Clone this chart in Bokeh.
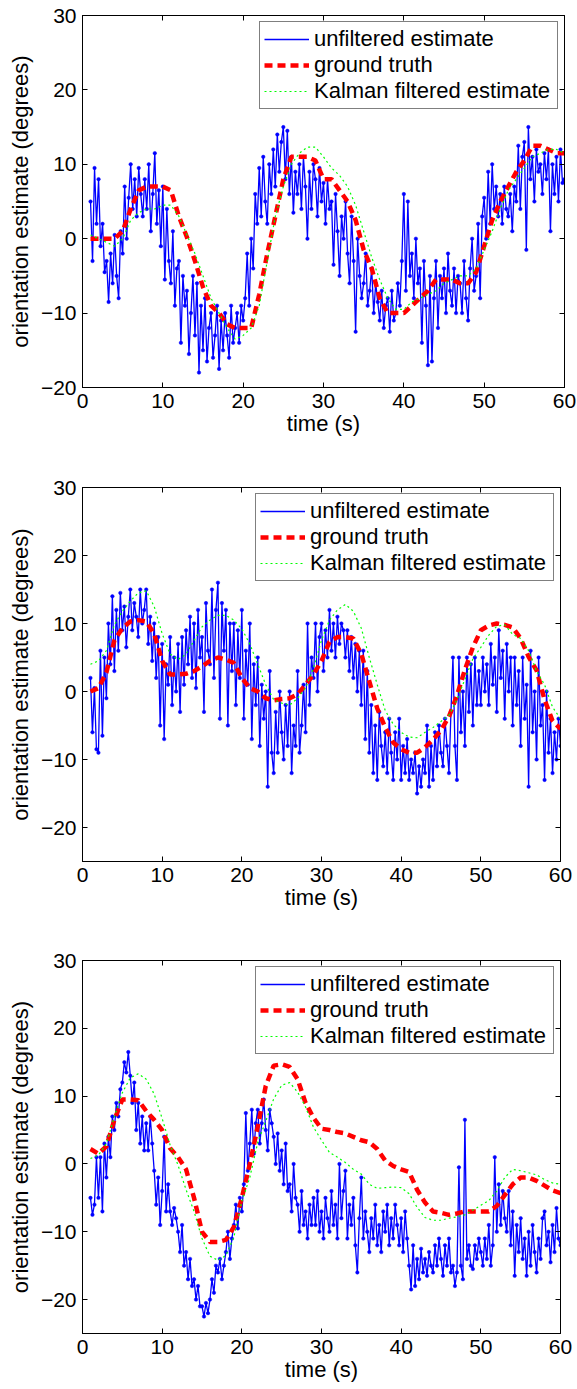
import numpy as np
from bokeh.plotting import figure
from bokeh.layouts import column
from bokeh.models import (LinearAxis, FixedTicker, Range1d, CustomJSTickFormatter,
                          CustomLabelingPolicy)
from bokeh.embed import file_html
from bokeh.resources import INLINE

# ---------------- data ----------------
# sample times
t_unf = np.arange(1.0, 60.001, 0.25)   # unfiltered estimate samples
t_smooth = np.arange(1, 61)            # ground truth / Kalman samples

# Panel 1
unf1 = [
    5, -3, 9.5, 2,   8, -1, 2, -4.5,   -3, -8.5, -2, -6,   0.5, -5, -8, 1,
    -2, 7, 0, 5.5,   10, 4, 8, 3,   9.5, 6, 3, 8,   4, 10, 1, 6,
    11.5, 2, 6.5, -1,   7, -5.5, 4, -3,   -6, 1, -9, -4,   -3, -14, -5, -9,
    -7, -15.5, -10, -5,   -13, -6, -18, -9,   -15, -8, -16.5, -12,   -10, -16, -13, -9,
    -17.5, -11, -15, -10,   -13, -16, -9, -14,   -12, -10, -14, -9,   -11, -8, -2, -9,
    0, -4, 6, 2,   9.5, 3, 11, 5,   2, 10, 6, 12,   7, 14, 9, 13,
    15, 8, 14.5, 6,   11, 3.5, 9, 6,   10, 4, 11, 7,   0, 9, 4, 10,
    8, 3, 9.5, 5,   7.5, 2, 8, 4,   5, -3.5, 6, 1,   -5, 3, 0, 5,
    -2, -6, 3, -3,   -12.5, 0, -5, -8,   -6, -2, -9, -7,   -4, -10, -6, -8.5,
    -11, -7, -12, -9,   -8, -12.5, -7, -11,   -10, -6, -9, -3,   6, -7, 5, -5,
    -2, -8, 0, -6,   -4, -14, -3, -9,   -17, -5, -16.5, -8,   -3, -12, -5, -8,
    -4, -10, -2, -7,   -9, -4, -10, -5,   -6, -10, -3, -8,   -11, -4, 0, -7,
    -5, 2, -8, 3,   5.5, 0, 9, 2,   10, 4, 7, 3,   6, 2, 7, 4,
    3, 6, 1, 7,   5, 12.5, 4, 11,   13, -1.5, 15, 8,   11, 5, 12, 9,
    10, 6, 11.5, 8,   12, 1, 10, 6,   11, 5, 12, 7.5,   8,
]
gt1 = [0, 0, 0, 0, 1, 4, 6.5, 7, 7, 7,
       6.5, 3, 0.2, -3, -6.5, -9, -10, -11.5, -12, -12,
       -12, -7.5, -2, 3, 8, 11, 11, 11, 10.5, 8,
       8, 6.5, 5, 2.5, -1.5, -4, -8, -10, -10, -10,
       -9, -8, -7, -5.5, -5.5, -5.5, -6, -6, -4.5, -1,
       2.5, 5, 7, 9, 10.5, 12.5, 12.5, 12, 11.5, 11.5]
kal1 = [0.5, 0, -0.5, -1, 0, 2.5, 3.5, 4, 4, 4.5,
        4.5, 3, 0.5, -2, -5, -8, -10, -12, -13.5, -13,
        -12, -9, -3, 3, 7, 10, 11.5, 12.3, 12.3, 11,
        9.5, 8.5, 7, 4.5, 1, -2.5, -5.5, -8, -9.5, -9.5,
        -8.5, -8, -7.5, -7, -6, -5.5, -5, -5, -4, -1.5,
        1, 4, 6.5, 8, 9.5, 11, 11.5, 12, 12, 11.5]

# Panel 2
unf2 = [
    2, -6, 0.5, -8.5,   -9, 6, -6.5, 5,   -1, 10, 4, 14,   3, 12, 6, 14.5,
    9, 12.5, 6.5, 11,   15, 9, 13, 11,   8, 15, 10, 12,   15, 7, 11, 4.5,
    10, 2, 8, -5,   7, -7, 4, 1,   8, -2, 5, 0,   7, -3, 8, 1,
    9, 4, 11, 2,   10, 0.5, 12, 5,   8, -3, 13, 6,   4, 15, 2, 12,
    16, -4, 13, 6,   12, -5, 10, 3,   10, -2, 9, 2,   12, -4, 6, 1,
    10, -7, 4, -2,   5, -8, 1, -4,   0, -14, 3, -9,   -12, -3, -9, 0,
    -6, -10, -2, -8,   0, -12, -5, -8,   3, -9, -5, 1,   -6, 10, -2, 5,
    2, 10, 0, 8,   10, 3, 9, 5,   12, 6, 10, 5,   11, 7, 10, 9,
    5, 9, 3, 8,   2, 7, 0, 6,   -2, 6, -7, 3,   -9, -2, -12, -5,
    -13, -3, -8, -11,   -6, -12, -4, -9,   -13, -6, -10, -4,   -13, -8, -12, -7,
    -13, -10, -12, -9,   -15, -11, -14, -10,   -12, -5, -14, -8,   -13, -6, -11, -5,
    -9, -11, -4, -8,   -12, -3, 5, -8,   -13, 5, -6, 0,   -8, 5, -3, 4,
    -5, 5, -2, 3,   -2, 5, 0, 4,   -2, 7, 1, 5,   -3, 9, 2, 6,
    -4, 7, 0, 5,   -5, 5, -2, 3,   -8, 5, -4, 1,   -14, 6, -6, 0,
    -10, 5, -5, -2,   -13, 0, -9, -4,   -12, -6, -10, -4,   -8,
]
gt2 = [0, 0.5, 2.8, 7.5, 9.3, 10.3, 10.5, 10.3, 8.5, 4.5,
       2.5, 2.5, 2.6, 3, 3.7, 4.5, 5, 4.7, 4.2, 2,
       0.5, 0, -1, -1.3, -1.1, -1, -0.4, 1, 2.5, 4.5,
       7.3, 8, 8, 7.8, 5.5, 1.5, -2.5, -5.3, -7.5, -8.5,
       -9, -9, -8.2, -7.1, -5.7, -3.7, -0.6, 3.2, 6.5, 9,
       9.7, 10, 9.8, 9.4, 7.8, 5.1, 3.1, -1.2, -4.3, -5.5]
kal2 = [4, 4.5, 6, 9.8, 11.8, 13.3, 14.5, 14.8, 12.5, 8.5,
        5.5, 4.7, 5.5, 7.5, 9.5, 10.5, 11.2, 11.2, 10.5, 9.2,
        7, 4, 1, -1.2, -1.7, -2, -1, 0.5, 3.5, 7.5,
        10.5, 12, 12.8, 11.8, 9.3, 5, 1, -2.8, -4.8, -6,
        -6.7, -6.8, -6, -5.3, -4.4, -3.5, -1.2, 1.8, 4.8, 6.5,
        8.3, 9.6, 9.8, 8.4, 7.8, 6, 3, 1, -2.3, -4]

# Panel 3
unf3 = [
    -5, -7.5, -6, 1,   -5, 1, -7, 3,   -2, 4, 1, 7,   5, 9, 7, 11,
    12, 15, 13.5, 16.5,   13, 9, 12, 5,   9, 3, 7, 2,   6, 2, 7, 3,
    -1, -6, -2, -9,   -4, 4, -7, -3,   -7, -9, -6.5, -8,   -10, -13, -9, -15,
    -13, -17, -14, -18,   -17, -20, -18, -21,   -21, -22.5, -20.5, -22,   -20, -17, -19, -15,
    -16, -14, -17, -15,   -13, -10, -14, -11,   -9, -6, -9.5, -5,   -7, -3, 7.5, -1,
    3, 8, 1.5, 6,   8, 3, 6, 9.5,   5, 2, 8, 6,   4, 0, 4.5, -1,
    2, -3, 3, -4,   -3, -7, 0, -5,   -6, -10, -4, -9,   -7, -11, -6, -9,
    -5, -9, -4, -10,   -7, -11, -5, -8,   -10, -4, -9, -6,   -11, 0, -8, -4,
    -1, -11, -6, -9,   -5, -12, -16, -8,   -2, -11, -7, -10,   -13, -8, -11, -6,
    -12, -9, -13, -7,   -10, -6, -12, -8,   -11, -6, -9, -12,   -8, -13, -7, -11,
    -15, -18.5, -12, -18,   -14, -17, -12.5, -16,   -14, -16.5, -13, -15,   -16, -12, -15, -11,
    -14, -16.5, -12, -15,   -11, -16, -15, -18,   -16, -0.5, -15, -17,   6.5, -14, -12, -15,
    -15.5, -12, -14, -11,   -13, -15, -11, -14,   -9, -15, -12, 1,   -10, -3, -9, -4,
    -8, -10, -4, -12,   -7, -16.5, -9, -13,   -8, -14, -11, -16.5,   -10, -15, -9, -13,
    -16, -11, -14, -8,   -7, -12, -10, -14.5,   -9, -13, -6.5, -11,   -12,
]
gt3 = [2.2, 1.5, 2.6, 6.5, 9.5, 9.5, 9.4, 7.8, 6.5, 5,
       2.3, 1, -0.8, -5, -10, -11.5, -11.5, -11.2, -9.3, -5,
       0, 5.5, 11.5, 14.5, 14.7, 14.3, 12.5, 9, 6.8, 5.2,
       5, 4.7, 4.5, 4, 3.5, 3.2, 2.2, 0.5, -0.3, -0.8,
       -1.2, -3.8, -5.7, -7, -7.2, -7.5, -7.3, -7, -7, -7,
       -7, -6.2, -4.6, -3, -2, -2, -2.5, -3.2, -3.9, -4.3]
kal3 = [0.8, 1.3, 3, 7, 10.5, 12.7, 13.3, 12.5, 10.3, 6.7,
        2.8, -0.2, -3.8, -7, -11, -13.6, -14.2, -13.5, -10.8, -5.5,
        -2, 3.2, 6.3, 9.6, 11.6, 12, 10.6, 8.4, 5.4, 3.5,
        1.7, 1, 0.2, -0.8, -1.5, -3, -3.6, -3.5, -3.4, -3.5,
        -4.4, -6.4, -7.9, -8.3, -8.3, -8, -7.8, -7.5, -6.8, -6.1,
        -5.4, -4, -2, -0.8, -1, -1.3, -1.6, -2.3, -2.8, -3]

x_ticks = [0, 10, 20, 30, 40, 50, 60]
y_ticks = [-20, -10, 0, 10, 20, 30]
x_label = "time (s)"
y_label = "orientation estimate (degrees)"
legend_labels = ["unfiltered estimate", "ground truth", "Kalman filtered estimate"]

# ---------------- styling ----------------
FONT = "Liberation Sans"
BLUE = "#0000FF"
RED = "#FF0000"
GREEN = "#00FF00"

minus_fmt_code = "return tick < 0 ? '\u2212' + Math.abs(tick) : '' + tick;"


def style_axis(ax, ticks, labels=True):
    ax.ticker = FixedTicker(ticks=ticks)
    ax.minor_tick_line_color = None
    ax.major_tick_in = 5
    ax.major_tick_out = 0
    ax.major_tick_line_color = "black"
    ax.major_tick_line_width = 1
    ax.axis_line_color = "black"
    ax.axis_line_width = 1
    if labels:
        ax.formatter = CustomJSTickFormatter(code=minus_fmt_code)
        ax.major_label_text_font = FONT
        ax.major_label_text_font_size = "21px"
        ax.major_label_text_color = "black"
        ax.major_label_standoff = 6
        ax.axis_label_text_font = FONT
        ax.axis_label_text_font_size = "22px"
        ax.axis_label_text_font_style = "normal"
        ax.axis_label_text_color = "black"
    else:
        ax.major_label_policy = CustomLabelingPolicy(code="return new Set()")
        ax.major_label_standoff = 0


def build(unf, gt, kal, ylo, frame_w, frame_h, bl, bt, bb, label_w):
    p = figure(frame_width=frame_w, frame_height=frame_h,
               x_range=Range1d(0, 60), y_range=Range1d(ylo, 30),
               output_backend="svg", toolbar_location=None,
               min_border_left=bl, min_border_right=10,
               min_border_top=bt, min_border_bottom=bb,
               background_fill_color="white", border_fill_color="white",
               outline_line_color="black", outline_line_width=1)
    p.xgrid.grid_line_color = None
    p.ygrid.grid_line_color = None

    p.line(t_unf, unf, line_color=BLUE, line_width=1.3, line_join="round",
           legend_label=legend_labels[0])
    p.scatter(t_unf, unf, marker="circle", size=3.5, fill_color=BLUE,
              line_color=BLUE, line_width=0.5)
    p.line(t_smooth, gt, line_color=RED, line_width=4.5, line_dash="8 5",
           legend_label=legend_labels[1])
    p.line(t_smooth, kal, line_color=GREEN, line_width=1.2, line_dash="2 3",
           legend_label=legend_labels[2])

    style_axis(p.xaxis[0], x_ticks)
    style_axis(p.yaxis[0], y_ticks)
    p.xaxis[0].axis_label = x_label
    p.xaxis[0].axis_label_standoff = 0
    p.yaxis[0].axis_label = y_label
    p.yaxis[0].axis_label_standoff = 5

    top = LinearAxis()
    style_axis(top, x_ticks, labels=False)
    p.add_layout(top, "above")
    right = LinearAxis()
    style_axis(right, y_ticks, labels=False)
    p.add_layout(right, "right")

    lg = p.legend[0]
    lg.location = "top_right"
    lg.margin = 6
    lg.padding = 4
    lg.spacing = 0
    lg.glyph_width = 45
    lg.glyph_height = 26
    lg.label_height = 26
    lg.label_width = label_w
    lg.label_standoff = 5
    lg.label_text_font = FONT
    lg.label_text_font_size = "22px"
    lg.label_text_color = "black"
    lg.border_line_color = "black"
    lg.border_line_width = 1
    lg.background_fill_color = "white"
    lg.background_fill_alpha = 1
    return p


p1 = build(unf1, gt1, kal1, -20, 482, 372, 79, 15, 85, 239)
p2 = build(unf2, gt2, kal2, -25, 478, 374, 82, 15, 84, 239)
p3 = build(unf3, gt3, kal3, -25, 478, 373, 82, 15, 56, 239)

layout = column(p1, p2, p3)
html = file_html(layout, INLINE, title="Orientation estimates")
html = html.replace("</head>", "<style>html,body{overflow:hidden;}</style></head>", 1)
open("out.html", "w").write(html)
